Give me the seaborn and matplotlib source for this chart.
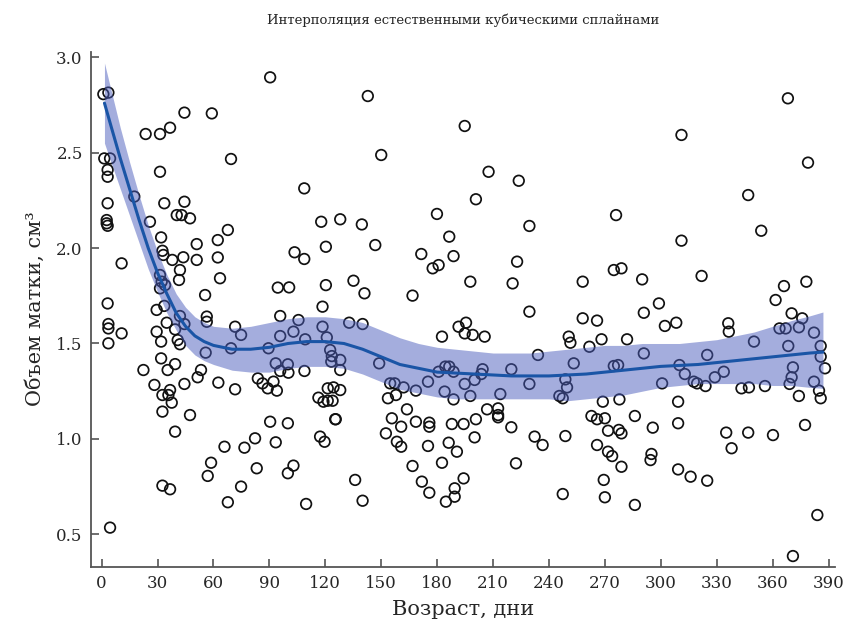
import numpy as np
import pandas as pd
import matplotlib
matplotlib.use("Agg")
import matplotlib.pyplot as plt
import seaborn as sns

age = [
    26.0, 0.9, 3.6, 44.4, 59.1, 23.6, 31.3, 36.7, 1.4, 4.5, 3.2, 3.2, 31.3, 17.5,
    3.2, 33.6, 44.4, 40.3, 42.9, 47.4, 2.7, 2.7, 3.2, 25.9, 31.9, 51.0, 32.6, 33.1,
    37.9, 43.8, 51.0, 10.7, 31.3, 32.2, 34.0, 42.0, 41.5, 31.3, 3.2, 55.5, 29.5, 33.6,
    42.0,
    44.4, 34.9, 56.4, 56.4, 3.6, 3.6, 10.7, 3.6, 29.5, 39.4, 31.9, 40.8, 42.0, 55.8,
    31.9, 39.4, 35.4, 22.4, 53.3, 51.5, 28.3, 44.4, 32.6, 36.7, 35.8, 37.6, 32.6, 47.4,
    39.4, 32.6, 36.7, 4.5,
    90.4, 69.4, 108.7, 117.8, 67.7, 62.3, 62.3, 103.5, 108.7, 120.3, 63.5, 94.5, 100.6,
    120.3, 118.5,
    95.8, 105.6, 71.6, 74.8, 102.9, 95.8, 118.5, 120.8, 109.2, 69.4, 89.5, 122.6, 123.5,
    123.2, 93.4, 99.9, 95.8, 100.2, 108.8, 62.6, 71.6, 83.8, 86.3, 89.1, 92.2, 94.0,
    116.3, 119.0, 125.3, 90.4, 99.9, 117.2, 119.6, 93.4, 82.3, 76.6, 65.9, 58.7, 56.9,
    83.2, 102.9, 99.9, 74.8, 67.7, 109.7,
    142.8, 150.0, 128.0, 139.6, 146.8, 179.9, 186.5, 171.5, 177.6, 180.8, 188.8, 135.1,
    141.0, 166.8,
    132.8, 140.0, 182.6, 128.0, 128.0, 148.9, 154.8, 157.2, 162.0, 168.6, 175.1, 180.8,
    184.4, 186.5, 184.0, 188.8, 121.3, 124.4, 128.0, 121.3, 123.9, 153.6, 157.9, 125.6,
    163.8, 155.7, 160.7, 168.6, 175.8, 175.8, 187.9, 152.5, 158.4, 160.7, 175.1, 186.2,
    166.8, 182.6, 171.8, 175.8, 184.7, 189.4, 189.4, 136.0, 140.0,
    194.8, 207.6, 223.8, 200.8, 229.5, 222.9, 197.8, 220.5, 229.5,
    191.5, 195.5, 194.8, 199.1, 205.5, 250.6, 251.5, 234.1, 188.8, 194.8, 200.1, 204.4,
    203.7, 219.8, 229.5, 253.3, 248.8, 249.7, 245.6, 247.4, 197.8, 213.9, 206.8, 212.7,
    212.7, 212.7, 200.8, 194.2, 200.1, 219.8, 232.3, 236.6, 248.8, 190.6, 222.3, 194.2,
    247.4,
    311.1, 276.0, 311.1, 274.8, 278.9, 258.1, 290.0, 299.0, 290.9,
    258.1, 265.8, 302.2, 308.3, 261.7, 268.2, 281.9, 290.9, 274.8, 277.1, 310.0, 312.9,
    317.7, 300.7, 268.9, 277.8, 262.8, 265.8, 270.0, 286.1, 271.7, 277.5, 278.9, 295.7,
    309.3, 309.3, 265.8, 271.7, 273.9, 295.0, 294.5, 278.9, 309.3, 316.0, 269.4, 270.0,
    286.1,
    368.2, 379.0, 346.9, 353.9, 321.9, 366.1, 378.1, 361.6, 370.2, 375.9,
    336.2, 336.5, 363.7, 367.0, 374.1, 382.2, 350.0, 368.4, 385.8, 385.8, 324.9, 388.1,
    333.8, 329.0, 319.5, 324.0, 370.9, 370.2, 369.1, 382.2, 343.3, 347.3, 355.9, 374.1,
    384.9, 385.8, 377.4, 335.1, 338.0, 346.9, 360.2, 324.9, 384.0, 370.9,
]
volume = [
    3.06, 2.807, 2.815, 2.71, 2.706, 2.598, 2.598, 2.631, 2.47, 2.47, 2.41, 2.374, 2.40, 2.27,
    2.235, 2.235, 2.243, 2.173, 2.173, 2.156, 2.147, 2.13, 2.117, 2.138, 2.056, 2.021, 1.986, 1.964,
    1.938, 1.952, 1.938, 1.92, 1.859, 1.824, 1.806, 1.885, 1.833, 1.789, 1.71, 1.754, 1.676, 1.697,
    1.644,
    1.602, 1.609, 1.641, 1.614, 1.602, 1.579, 1.553, 1.501, 1.562, 1.574, 1.51, 1.518, 1.496, 1.452,
    1.422, 1.392, 1.361, 1.361, 1.361, 1.323, 1.283, 1.288, 1.23, 1.256, 1.23, 1.19, 1.143, 1.125,
    1.038, 0.755, 0.736, 0.535,
    2.895, 2.467, 2.313, 2.138, 2.095, 2.042, 1.951, 1.978, 1.943, 2.007, 1.842, 1.793, 1.794,
    1.806, 1.693,
    1.644, 1.623, 1.588, 1.545, 1.562, 1.539, 1.588, 1.532, 1.522, 1.475, 1.475, 1.466, 1.434,
    1.405, 1.396, 1.391, 1.356, 1.347, 1.356, 1.295, 1.26, 1.317, 1.291, 1.265, 1.30, 1.253,
    1.216, 1.195, 1.103, 1.09, 1.082, 1.012, 0.985, 0.982, 1.003, 0.954, 0.959, 0.875, 0.806,
    0.846, 0.86, 0.82, 0.75, 0.668, 0.659,
    2.797, 2.488, 2.151, 2.124, 2.016, 2.179, 2.06, 1.969, 1.894, 1.911, 1.958, 1.829,
    1.763, 1.751,
    1.609, 1.602, 1.536, 1.414, 1.361, 1.396, 1.291, 1.291, 1.27, 1.253, 1.30, 1.352,
    1.379, 1.379, 1.248, 1.207, 1.265, 1.27, 1.256, 1.20, 1.20, 1.213, 1.23, 1.103,
    1.155, 1.108, 1.064, 1.09, 1.085, 1.064, 1.078, 1.029, 0.985, 0.959, 0.963, 0.98,
    0.858, 0.875, 0.776, 0.718, 0.671, 0.697, 0.741, 0.785, 0.676,
    2.64, 2.40, 2.353, 2.256, 2.116, 1.929, 1.824, 1.815, 1.667,
    1.588, 1.609, 1.553, 1.545, 1.536, 1.536, 1.504, 1.44, 1.352, 1.288, 1.309, 1.365,
    1.34, 1.365, 1.288, 1.396, 1.312, 1.27, 1.225, 1.213, 1.225, 1.235, 1.155, 1.16,
    1.125, 1.113, 1.103, 1.078, 1.008, 1.061, 1.012, 0.968, 1.015, 0.933, 0.872, 0.793,
    0.711,
    2.593, 2.173, 2.039, 1.885, 1.894, 1.824, 1.836, 1.71, 1.661,
    1.632, 1.62, 1.592, 1.609, 1.483, 1.522, 1.522, 1.448, 1.382, 1.387, 1.387, 1.34,
    1.30, 1.291, 1.195, 1.207, 1.12, 1.103, 1.108, 1.12, 1.043, 1.047, 1.029, 1.059,
    1.195, 1.082, 0.968, 0.933, 0.91, 0.921, 0.889, 0.854, 0.84, 0.802, 0.785, 0.694,
    0.654,
    2.785, 2.448, 2.278, 2.091, 1.854, 1.801, 1.824, 1.728, 1.658, 1.632,
    1.606, 1.562, 1.579, 1.579, 1.585, 1.557, 1.51, 1.487, 1.487, 1.431, 1.44, 1.37,
    1.352, 1.323, 1.291, 1.277, 1.375, 1.323, 1.288, 1.30, 1.265, 1.27, 1.277, 1.225,
    1.253, 1.213, 1.073, 1.033, 0.951, 1.033, 1.02, 0.781, 0.601, 0.386,
]

# кривая сплайна и доверительная полоса
fit_x = [1.5, 5, 10, 15, 20, 25, 30, 35, 40, 45, 50, 55, 60, 70, 80, 90, 100, 110, 120,
         130, 140, 150, 160, 170, 180, 190, 200, 210, 220, 230, 240, 250, 260, 270, 280,
         290, 300, 310, 320, 330, 340, 350, 360, 370, 380, 387]
fit_y = [2.76, 2.64, 2.47, 2.31, 2.15, 2.00, 1.87, 1.76, 1.66, 1.59, 1.54, 1.51, 1.49,
         1.47, 1.47, 1.48, 1.50, 1.51, 1.51, 1.50, 1.47, 1.43, 1.39, 1.37, 1.35, 1.345,
         1.34, 1.335, 1.33, 1.33, 1.33, 1.335, 1.34, 1.35, 1.36, 1.37, 1.38, 1.385, 1.39,
         1.40, 1.41, 1.42, 1.43, 1.44, 1.45, 1.455]
fit_lo = [2.55, 2.45, 2.31, 2.17, 2.03, 1.89, 1.77, 1.66, 1.57, 1.49, 1.44, 1.41, 1.39,
          1.36, 1.35, 1.35, 1.37, 1.38, 1.38, 1.37, 1.34, 1.30, 1.26, 1.24, 1.22, 1.21,
          1.21, 1.21, 1.21, 1.21, 1.21, 1.20, 1.21, 1.22, 1.23, 1.25, 1.27, 1.28, 1.29,
          1.29, 1.29, 1.29, 1.28, 1.28, 1.27, 1.265]
fit_hi = [2.97, 2.83, 2.63, 2.45, 2.28, 2.12, 1.98, 1.86, 1.76, 1.69, 1.64, 1.61, 1.59,
          1.58, 1.59, 1.61, 1.63, 1.64, 1.64, 1.63, 1.61, 1.57, 1.53, 1.50, 1.48, 1.47,
          1.46, 1.45, 1.45, 1.45, 1.46, 1.47, 1.48, 1.49, 1.49, 1.50, 1.50, 1.50, 1.51,
          1.52, 1.54, 1.56, 1.59, 1.62, 1.645, 1.665]

pts = pd.DataFrame({"age": age, "volume": volume})
fit = pd.DataFrame({"x": fit_x, "y": fit_y, "lo": fit_lo, "hi": fit_hi})

sns.set_style("ticks")
plt.rcParams["font.family"] = ["DejaVu Serif", "DejaVu Sans"]

fig = plt.figure(figsize=(8.43, 6.29), dpi=100)
ax = fig.add_axes([0.108, 0.099, 0.883, 0.819])

sns.scatterplot(data=pts, x="age", y="volume", ax=ax, marker="o", s=58,
                facecolor="none", edgecolor="#111111", linewidth=1.25, zorder=2)
ax.fill_between(fit["x"], fit["lo"], fit["hi"], color="#4a5cbc", alpha=0.5,
                linewidth=0, zorder=3)
sns.lineplot(data=fit, x="x", y="y", ax=ax, color="#1a55a6", linewidth=2.2, zorder=4)

ax.set_xlim(-5.7, 393.7)
ax.set_ylim(0.33, 3.03)
ax.set_xticks(range(0, 391, 30))
ax.set_yticks([0.5, 1.0, 1.5, 2.0, 2.5, 3.0])
ax.set_yticklabels(["0.5", "1.0", "1.5", "2.0", "2.5", "3.0"])
ax.tick_params(direction="in", length=6, width=1.2, color="#555555",
               labelsize=12, pad=6)
for side in ["left", "bottom"]:
    ax.spines[side].set_color("#555555")
    ax.spines[side].set_linewidth(1.3)
sns.despine(ax=ax)

ax.set_xlabel("Возраст, дни", fontsize=15, labelpad=6)
ax.set_ylabel("Объем матки, см³", fontsize=15, labelpad=8)
ax.set_title("Интерполяция естественными кубическими сплайнами", fontsize=9.5, pad=20)

fig.savefig("out.png", dpi=100)
